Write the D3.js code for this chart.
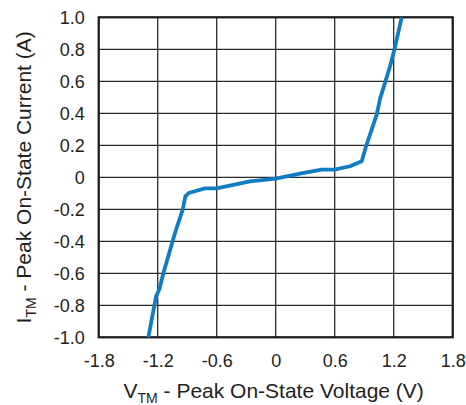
<!DOCTYPE html>
<html>
<head>
<meta charset="utf-8">
<script src="https://cdn.jsdelivr.net/npm/d3@7"></script>
<style>
  body { margin: 0; background: #fff; }
  text { font-family: "Liberation Sans", Arial, sans-serif; fill: #231f20; }
</style>
</head>
<body>
<svg width="466" height="405"></svg>
<script>
// V-I curve
let voltage = [-1.295, -1.217, -1.183, -1.142, -1.024, -0.946, -0.919, -0.885, -0.719, -0.6,
    -0.261, 0, 0.247, 0.468, 0.597, 0.756, 0.875, 0.919, 0.976, 1.027, 1.061, 1.163, 1.207, 1.281];
let current = [-1.0, -0.744, -0.70, -0.598, -0.348, -0.202, -0.119, -0.098, -0.069, -0.069,
    -0.025, -0.008, 0.023, 0.048, 0.048, 0.069, 0.1, 0.194, 0.298, 0.392, 0.49, 0.694, 0.798, 1.0];
let xTicks = [-1.8, -1.2, -0.6, 0, 0.6, 1.2, 1.8];
let xTickLabels = ["-1.8", "-1.2", "-0.6", "0", "0.6", "1.2", "1.8"];
let yTicks = [-1.0, -0.8, -0.6, -0.4, -0.2, 0, 0.2, 0.4, 0.6, 0.8, 1.0];
let yTickLabels = ["-1.0", "-0.8", "-0.6", "-0.4", "-0.2", "0", "0.2", "0.4", "0.6", "0.8", "1.0"];

let svg = d3.select("svg"),
    margin = {top: 17.3, bottom: 67.7, left: 98.7, right: 13.3},
    width = svg.attr("width") - margin.left - margin.right,
    height = svg.attr("height") - margin.top - margin.bottom;

let g = svg.append("g")
    .attr("transform", "translate(" + margin.left + "," + margin.top + ")");

let xScale = d3.scaleLinear().domain([-1.8, 1.8]).range([0, width]);
let yScale = d3.scaleLinear().domain([-1, 1]).range([height, 0]);

// grid
g.append("g")
    .selectAll("line")
    .data(xTicks)
    .join("line")
    .attr("x1", d => xScale(d))
    .attr("x2", d => xScale(d))
    .attr("y1", 0)
    .attr("y2", height)
    .attr("stroke", "#2b2b2b")
    .attr("stroke-width", 1.3);
g.append("g")
    .selectAll("line")
    .data(yTicks)
    .join("line")
    .attr("x1", 0)
    .attr("x2", width)
    .attr("y1", d => yScale(d))
    .attr("y2", d => yScale(d))
    .attr("stroke", "#2b2b2b")
    .attr("stroke-width", 1.3);

// frame
g.append("rect")
    .attr("width", width)
    .attr("height", height)
    .attr("fill", "none")
    .attr("stroke", "#1a1a1a")
    .attr("stroke-width", 2.2);

// axes (labels only)
let xAxis = g.append("g")
    .attr("transform", "translate(0," + height + ")")
    .call(d3.axisBottom(xScale).tickValues(xTicks).tickSize(0).tickPadding(17)
        .tickFormat((d, i) => xTickLabels[i]));
let yAxis = g.append("g")
    .call(d3.axisLeft(yScale).tickValues(yTicks).tickSize(0).tickPadding(14)
        .tickFormat((d, i) => yTickLabels[i]));
[xAxis, yAxis].forEach(a => {
    a.select(".domain").remove();
    a.selectAll("text").attr("font-size", "18px")
        .attr("font-family", "Liberation Sans, Arial, sans-serif")
        .attr("fill", "#231f20");
});

// curve
let pts = voltage.map((v, i) => [v, current[i]]);
g.append("path")
    .datum(pts)
    .attr("fill", "none")
    .attr("stroke", "#0f7dc2")
    .attr("stroke-width", 3.8)
    .attr("stroke-linejoin", "round")
    .attr("d", d3.line()
        .x(d => xScale(d[0]))
        .y(d => yScale(d[1])));

// x-axis title
let xt = svg.append("text")
    .attr("x", margin.left + width / 2 - 2)
    .attr("y", 398)
    .attr("text-anchor", "middle")
    .attr("font-size", "21px");
xt.append("tspan").text("V");
xt.append("tspan").attr("font-size", "14px").attr("dy", 5).text("TM");
xt.append("tspan").attr("dy", -5).text(" - Peak On-State Voltage (V)");

// y-axis title
let yt = svg.append("text")
    .attr("transform", "translate(31," + (margin.top + height / 2) + ") rotate(-90)")
    .attr("text-anchor", "middle")
    .attr("font-size", "21px");
yt.append("tspan").text("I");
yt.append("tspan").attr("font-size", "14px").attr("dy", 5).text("TM");
yt.append("tspan").attr("dy", -5).text(" - Peak On-State Current (A)");
</script>
</body>
</html>
